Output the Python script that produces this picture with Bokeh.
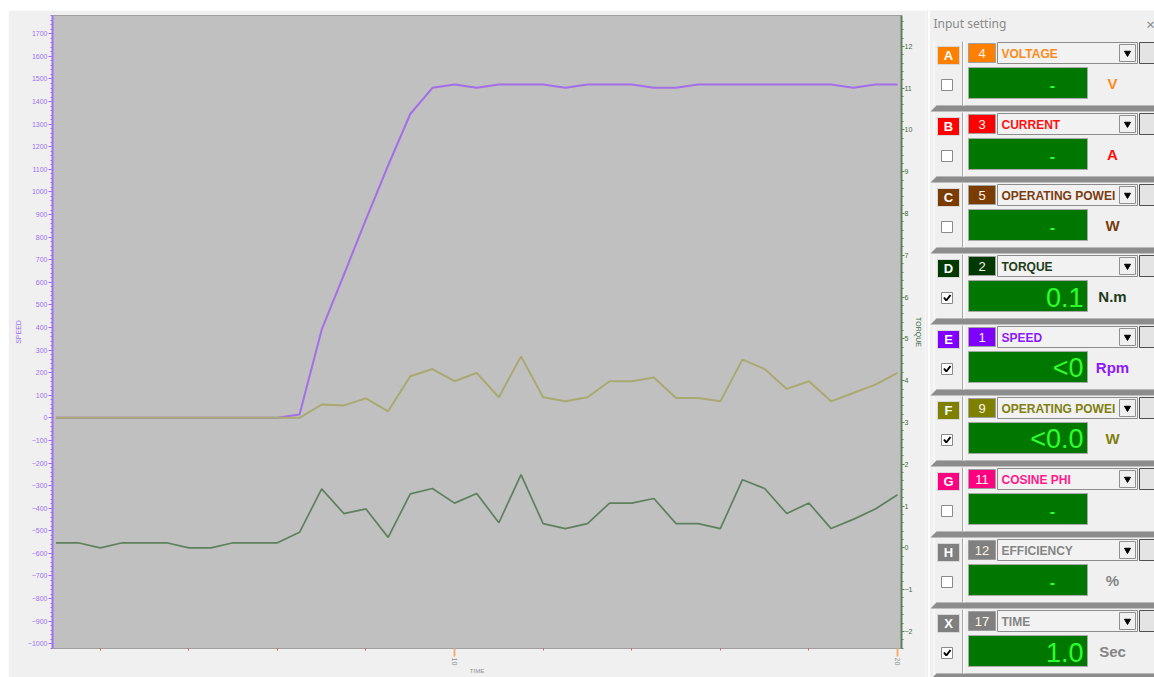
import math
from bokeh.plotting import figure
from bokeh.models import Range1d, LinearAxis, SingleIntervalTicker, FixedTicker, Spacer
from bokeh.layouts import row, column
from bokeh.embed import file_html
from bokeh.resources import INLINE
from bokeh.core.properties import value

# ---------------- data ----------------
time_s = [1.0, 1.5, 2.0, 2.5, 3.0, 3.5, 4.0, 4.5, 5.0, 5.5, 6.0, 6.5, 7.0, 7.5, 8.0,
          8.5, 9.0, 9.5, 10.0, 10.5, 11.0, 11.5, 12.0, 12.5, 13.0, 13.5, 14.0, 14.5,
          15.0, 15.5, 16.0, 16.5, 17.0, 17.5, 18.0, 18.5, 19.0, 19.5, 20.0]
speed_rpm = [0, 0, 0, 0, 0, 0, 0, 0, 0, 0, 0, 15, 390, 633, 879, 1117, 1345, 1461,
             1476, 1461, 1476, 1476, 1476, 1461, 1476, 1476, 1476, 1461, 1461, 1476,
             1476, 1476, 1476, 1476, 1476, 1476, 1461, 1476, 1476]
power_w = [0, 0, 0, 0, 0, 0, 0, 0, 0, 0, 0, 0, 59, 55, 86, 29, 184, 216, 162, 199,
           91, 272, 91, 73, 91, 162, 162, 179, 88, 88, 73, 258, 216, 128, 162, 73,
           110, 147, 199]
torque_nm = [0.12, 0.12, 0.0, 0.12, 0.12, 0.12, 0.0, 0.0, 0.12, 0.12, 0.12, 0.37,
             1.41, 0.82, 0.93, 0.25, 1.29, 1.42, 1.07, 1.30, 0.60, 1.75, 0.58, 0.46,
             0.58, 1.07, 1.07, 1.18, 0.58, 0.58, 0.46, 1.63, 1.42, 0.82, 1.07, 0.46,
             0.68, 0.93, 1.27]

x_major_ticks = [10, 20]
x_minor_ticks = [2, 4, 6, 8, 12, 14, 16, 18]

channel_letters = ["A", "B", "C", "D", "E", "F", "G", "H", "X"]
channel_numbers = ["4", "3", "5", "2", "1", "9", "11", "12", "17"]
channel_names = ["VOLTAGE", "CURRENT", "OPERATING POWEI", "TORQUE", "SPEED",
                 "OPERATING POWEI", "COSINE PHI", "EFFICIENCY", "TIME"]
channel_values = ["-", "-", "-", "0.1", "<0", "<0.0", "-", "-", "1.0"]
channel_units = ["V", "A", "W", "N.m", "Rpm", "W", "", "%", "Sec"]
channel_checked = [False, False, False, True, True, True, False, False, True]
channel_badge_colors = ["#ff8000", "#ff0000", "#7a3c00", "#003a00", "#8000ff",
                        "#808000", "#ff0080", "#808080", "#808080"]
channel_text_colors = ["#ff8a1a", "#ff1010", "#7a3c10", "#1c3c1c", "#8c1aff",
                       "#808010", "#ff1a8c", "#858585", "#858585"]

PURPLE = "#a46ee8"
PURPLE_AX = "#a070f0"
OLIVE = "#a9a972"
GREEN = "#5e805e"
GREEN_AX = "#3c6a48"
FONT = value("Liberation Sans")

# ---------------- chart ----------------
p = figure(width=917, height=667, x_range=Range1d(0.923, 20.09),
           y_range=Range1d(-1021, 1781), output_backend="svg", toolbar_location=None,
           min_border_left=44, min_border_right=22, min_border_top=5,
           min_border_bottom=28, background_fill_color="#c0c0c0",
           border_fill_color="#f0f0f0", outline_line_color="#a0a0a0")
p.frame_align = False
p.extra_y_ranges = {"torque": Range1d(-2.41, 12.74)}
p.grid.visible = False

xa = p.xaxis[0]
xa.ticker = FixedTicker(ticks=x_major_ticks, minor_ticks=x_minor_ticks)
xa.axis_line_color = None
xa.major_tick_line_color = "#f0b070"
xa.major_tick_line_width = 2
xa.major_tick_out = 8
xa.major_tick_in = 0
xa.minor_tick_line_color = "#ff5050"
xa.minor_tick_out = 2
xa.minor_tick_in = 0
xa.major_label_orientation = "vertical"
xa.major_label_text_font_size = "7px"
xa.major_label_text_color = "#909090"
xa.major_label_text_font = "Liberation Sans"
xa.major_label_standoff = 1
xa.axis_label = "TIME"
xa.axis_label_text_font_size = "6px"
xa.axis_label_text_color = "#909090"
xa.axis_label_text_font_style = "normal"
xa.axis_label_standoff = 0

ya = p.yaxis[0]
ya.ticker = SingleIntervalTicker(interval=100, num_minor_ticks=5)
ya.axis_line_color = PURPLE_AX
ya.axis_line_width = 2
ya.major_tick_line_color = PURPLE_AX
ya.minor_tick_line_color = PURPLE_AX
ya.major_tick_out = 4
ya.major_tick_in = 0
ya.minor_tick_out = 2
ya.minor_tick_in = 0
ya.major_label_text_font_size = "7px"
ya.major_label_text_color = PURPLE_AX
ya.major_label_text_font = "Liberation Sans"
ya.major_label_standoff = 1
ya.axis_label = "SPEED"
ya.axis_label_text_font_size = "7px"
ya.axis_label_text_color = PURPLE_AX
ya.axis_label_text_font_style = "normal"
ya.axis_label_standoff = 3

ra = LinearAxis(y_range_name="torque",
                ticker=SingleIntervalTicker(interval=1, num_minor_ticks=5))
ra.axis_line_color = GREEN
ra.axis_line_width = 2
ra.major_tick_line_color = GREEN
ra.minor_tick_line_color = GREEN
ra.major_tick_out = 3
ra.major_tick_in = 0
ra.minor_tick_out = 2
ra.minor_tick_in = 0
ra.major_label_text_font_size = "7px"
ra.major_label_text_color = GREEN_AX
ra.major_label_text_font = "Liberation Sans"
ra.major_label_standoff = 0
ra.axis_label = "TORQUE"
ra.axis_label_text_font_size = "7px"
ra.axis_label_text_color = GREEN_AX
ra.axis_label_text_font_style = "normal"
ra.axis_label_standoff = 0
p.add_layout(ra, "right")

p.line(time_s, speed_rpm, line_color=PURPLE, line_width=2)
p.line(time_s, power_w, line_color=OLIVE, line_width=2)
p.line(time_s, torque_nm, line_color=GREEN, line_width=1.7, y_range_name="torque")

# ---------------- input setting panel ----------------
q = figure(width=229, height=667, x_range=Range1d(925, 1154), y_range=Range1d(677, 10),
           output_backend="svg", toolbar_location=None, min_border=0,
           x_axis_location=None, y_axis_location=None,
           background_fill_color="#f0f0f0", border_fill_color="#f0f0f0",
           outline_line_color=None)
q.frame_align = False
q.grid.visible = False

n = len(channel_letters)
cy = [55 + 71 * i for i in range(n)]

q.segment(x0=[928.5], y0=[10], x1=[928.5], y1=[677], line_color="#ffffff", line_width=2)
q.text(x=[933], y=[23], text=["Input setting"], text_color="#8a8a8a",
       text_font=value("Noto Sans"), text_font_size="12px", text_baseline="middle",
       text_align="left")
q.text(x=[1150], y=[23], text=["×"], text_color="#8a8a8a",
       text_font=value("Noto Sans"), text_font_size="15px", text_baseline="middle",
       text_align="center")

# separators
sep_xs, sep_ys = [], []
for c in cy:
    sep_xs.append([930, 936, 1154, 1154])
    sep_ys.append([c + 56, c + 50, c + 50, c + 56])
q.patches(xs=sep_xs, ys=sep_ys, fill_color="#8c8c8c", line_color=None)
q.segment(x0=[936] * n, y0=[c + 50 for c in cy], x1=[1154] * n, y1=[c + 50 for c in cy],
          line_color="#b8b8b8", line_width=1)
# column dividers
q.segment(x0=[962] * n, y0=[c - 14 for c in cy], x1=[962] * n, y1=[c + 50 for c in cy],
          line_color="#a8a8a8", line_width=1)
q.segment(x0=[963.5] * n, y0=[c - 14 for c in cy], x1=[963.5] * n, y1=[c + 50 for c in cy],
          line_color="#ffffff", line_width=1)
q.segment(x0=[933.5] * n, y0=[c - 14 for c in cy], x1=[933.5] * n, y1=[c + 50 for c in cy],
          line_color="#ffffff", line_width=1)

# letter badges
q.quad(left=[937] * n, right=[959] * n, top=[c - 9 for c in cy], bottom=[c + 9 for c in cy],
       fill_color=channel_badge_colors, line_color="#d8d8d8", line_width=1)
q.text(x=[948] * n, y=cy, text=channel_letters, text_color="#ffffff", text_align="center",
       text_baseline="middle", text_font=FONT, text_font_style="bold", text_font_size="13px")

# checkboxes
q.quad(left=[941] * n, right=[952] * n, top=[c + 24 for c in cy], bottom=[c + 35 for c in cy],
       fill_color="#ffffff", line_color="#8a8a8a", line_width=1)
chk_x = []
chk_y = []
for c, ch in zip(cy, channel_checked):
    if ch:
        chk_x.append([943.5, 945.8, 950])
        chk_y.append([c + 29, c + 32, c + 26.5])
q.multi_line(xs=chk_x, ys=chk_y, line_color="#000000", line_width=2)

# number badges
q.quad(left=[968] * n, right=[995] * n, top=[c - 12 for c in cy], bottom=[c + 7 for c in cy],
       fill_color=channel_badge_colors, line_color="#a0a0a0", line_width=1)
q.text(x=[981.5] * n, y=[c - 2.5 for c in cy], text=channel_numbers, text_color="#fff4e8",
       text_align="center", text_baseline="middle", text_font=FONT,
       text_font_size="13px")

# combo boxes
q.quad(left=[997] * n, right=[1137] * n, top=[c - 13 for c in cy], bottom=[c + 8 for c in cy],
       fill_color="#f2f2f2", line_color="#8c8c8c", line_width=1)
q.text(x=[1001] * n, y=[c - 2 for c in cy], text=channel_names, text_color=channel_text_colors,
       text_align="left", text_baseline="middle", text_font=FONT, text_font_style="bold",
       text_font_size="12px")
q.quad(left=[1119] * n, right=[1135] * n, top=[c - 11 for c in cy], bottom=[c + 6 for c in cy],
       fill_color="#f0f0f0", line_color="#909090", line_width=1)
q.scatter(x=[1127] * n, y=[c - 2.5 for c in cy], marker="inverted_triangle", size=6,
          fill_color="#000000", line_color="#000000")

# right mini buttons (cut by the window edge)
q.quad(left=[1139] * n, right=[1158] * n, top=[c - 13 for c in cy], bottom=[c + 8 for c in cy],
       fill_color="#e4e4e4", line_color="#505050", line_width=1)

# value displays
q.quad(left=[968] * n, right=[1087] * n, top=[c + 12 for c in cy], bottom=[c + 43 for c in cy],
       fill_color="#007800", line_color="#a8a8a8", line_width=1)
num_idx = [i for i, v in enumerate(channel_values) if v != "-"]
dash_idx = [i for i, v in enumerate(channel_values) if v == "-"]
q.text(x=[1083] * len(num_idx), y=[cy[i] + 28.5 for i in num_idx],
       text=[channel_values[i] for i in num_idx], text_color="#2cff2c", text_align="right",
       text_baseline="middle", text_font=FONT, text_font_size="27px")
q.text(x=[1052] * len(dash_idx), y=[cy[i] + 29 for i in dash_idx],
       text=[channel_values[i] for i in dash_idx], text_color="#2cff2c", text_align="center",
       text_baseline="middle", text_font=FONT, text_font_style="bold", text_font_size="16px")

# units
q.text(x=[1112] * n, y=[c + 28 for c in cy], text=channel_units, text_color=channel_text_colors,
       text_align="center", text_baseline="middle", text_font=FONT, text_font_style="bold",
       text_font_size="15px")

layout = column(Spacer(height=10), row(Spacer(width=8), p, q))
open("out.html", "w").write(file_html(layout, INLINE))
